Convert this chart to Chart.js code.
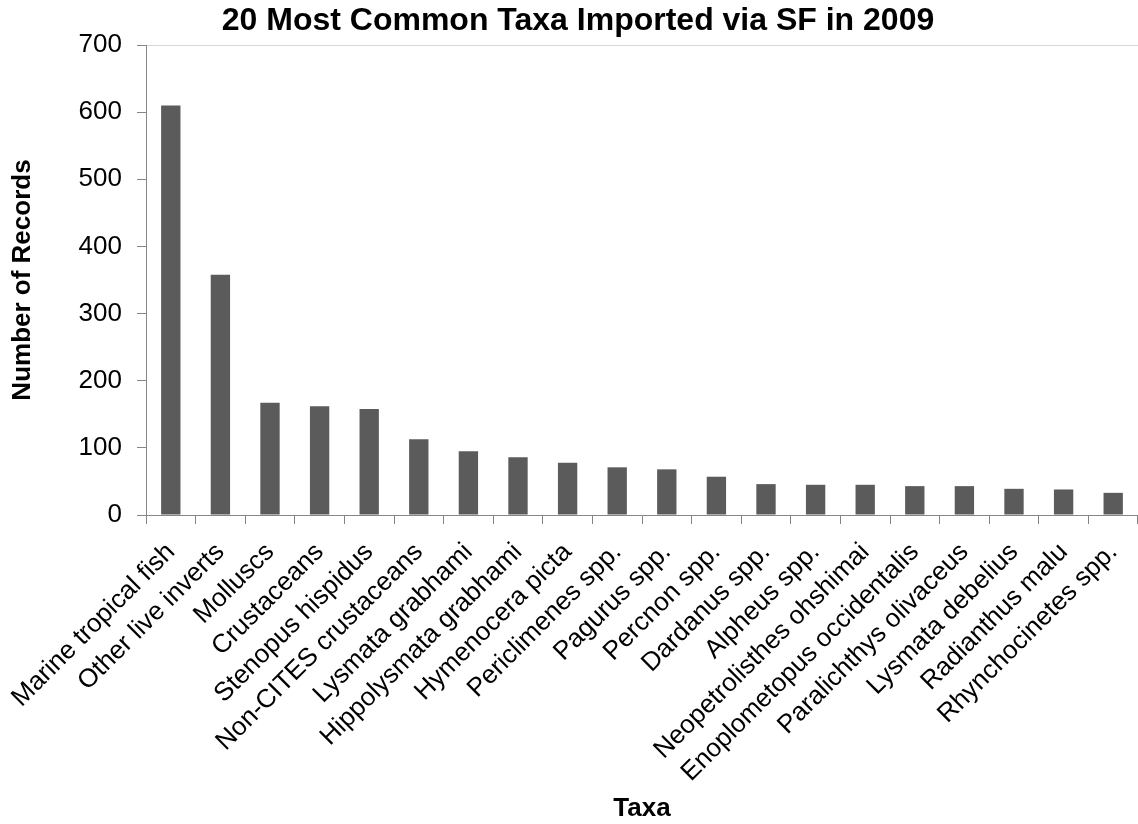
<!DOCTYPE html>
<html>
<head>
<meta charset="utf-8">
<title>20 Most Common Taxa Imported via SF in 2009</title>
<script src="https://cdn.jsdelivr.net/npm/chart.js@4.4.1/dist/chart.umd.min.js"></script>
<style>
  html, body { margin: 0; padding: 0; background: #fff; }
  #wrap { width: 1138px; height: 824px; }
</style>
</head>
<body>
<div id="wrap"><canvas id="grafica" width="1138" height="824"></canvas></div>
<script>
// Datos
const taxa = [
  "Marine tropical fish", "Other live inverts", "Molluscs", "Crustaceans",
  "Stenopus hispidus", "Non-CITES crustaceans", "Lysmata grabhami",
  "Hippolysmata grabhami", "Hymenocera picta", "Periclimenes spp.",
  "Pagurus spp.", "Percnon spp.", "Dardanus spp.", "Alpheus spp.",
  "Neopetrolisthes ohshimai", "Enoplometopus occidentalis",
  "Paralichthys olivaceus", "Lysmata debelius", "Radianthus malu",
  "Rhynchocinetes spp."
];
const records = [610, 358, 167, 162, 158, 113, 95, 86, 78, 71, 68, 57, 46, 45, 45, 43, 43, 39, 38, 33];
const yTicks = [0, 100, 200, 300, 400, 500, 600, 700];
const chartTitle = "20 Most Common Taxa Imported via SF in 2009";

const AXIS_GRAY = "#868686";
const FONT = "'Liberation Sans', Arial, sans-serif";

Chart.defaults.font.family = FONT;
Chart.defaults.color = "#000";

// El titulo del original no esta centrado en el canvas, lo dibujamos a mano
const titlePlugin = {
  id: "tituloManual",
  afterDraw(chart) {
    const ctx = chart.ctx;
    ctx.save();
    ctx.font = "bold 32px " + FONT;
    ctx.fillStyle = "#000";
    ctx.textAlign = "center";
    ctx.textBaseline = "middle";
    ctx.fillText(chartTitle, 578, 21);
    ctx.restore();
  },
};

const chart = new Chart(document.getElementById("grafica"), {
  type: "bar",
  data: {
    labels: taxa,
    datasets: [{
      label: "Number of Records",
      data: records,
      backgroundColor: "#5b5b5b",
      categoryPercentage: 1,
      barPercentage: 0.39,
    }],
  },
  plugins: [titlePlugin],
  options: {
    responsive: false,
    animation: false,
    devicePixelRatio: 1,
    layout: { padding: { left: 0, right: -5, top: 45, bottom: 0 } },
    plugins: {
      legend: { display: false },
      tooltip: { enabled: false },
      title: { display: false },
    },
    scales: {
      x: {
        border: { color: AXIS_GRAY, width: 1 },
        grid: { drawOnChartArea: false, tickLength: 9, tickColor: AXIS_GRAY, offset: true },
        ticks: { autoSkip: false, maxRotation: 45, minRotation: 45, font: { size: 26 }, padding: 13 },
        title: { display: true, text: "Taxa", font: { size: 26, weight: "bold" }, padding: { top: 0, bottom: 0 } },
        afterFit: (s) => {
          // altura fija del eje x para que el area quede igual que el original
          s.height = 309;
          s.paddingLeft = 0;
          s.paddingRight = 0;
        },
      },
      y: {
        min: 0,
        max: 700,
        border: { color: AXIS_GRAY, width: 1 },
        grid: {
          // solo la linea superior (700) se ve en el area del grafico
          color: (c) => (c.tick && c.tick.value === 700 ? "#d6d6d6" : "rgba(0,0,0,0)"),
          tickColor: AXIS_GRAY,
          tickLength: 9,
        },
        afterBuildTicks: (s) => { s.ticks = yTicks.map((v) => ({ value: v })); },
        ticks: { font: { size: 26 }, padding: 15 },
        title: { display: true, text: "Number of Records", font: { size: 26, weight: "bold" }, padding: { top: 7, bottom: 0 } },
        afterFit: (s) => {
          s.width = 146;
          s.paddingTop = 0;
          s.paddingBottom = 0;
        },
      },
    },
  },
});
</script>
</body>
</html>
